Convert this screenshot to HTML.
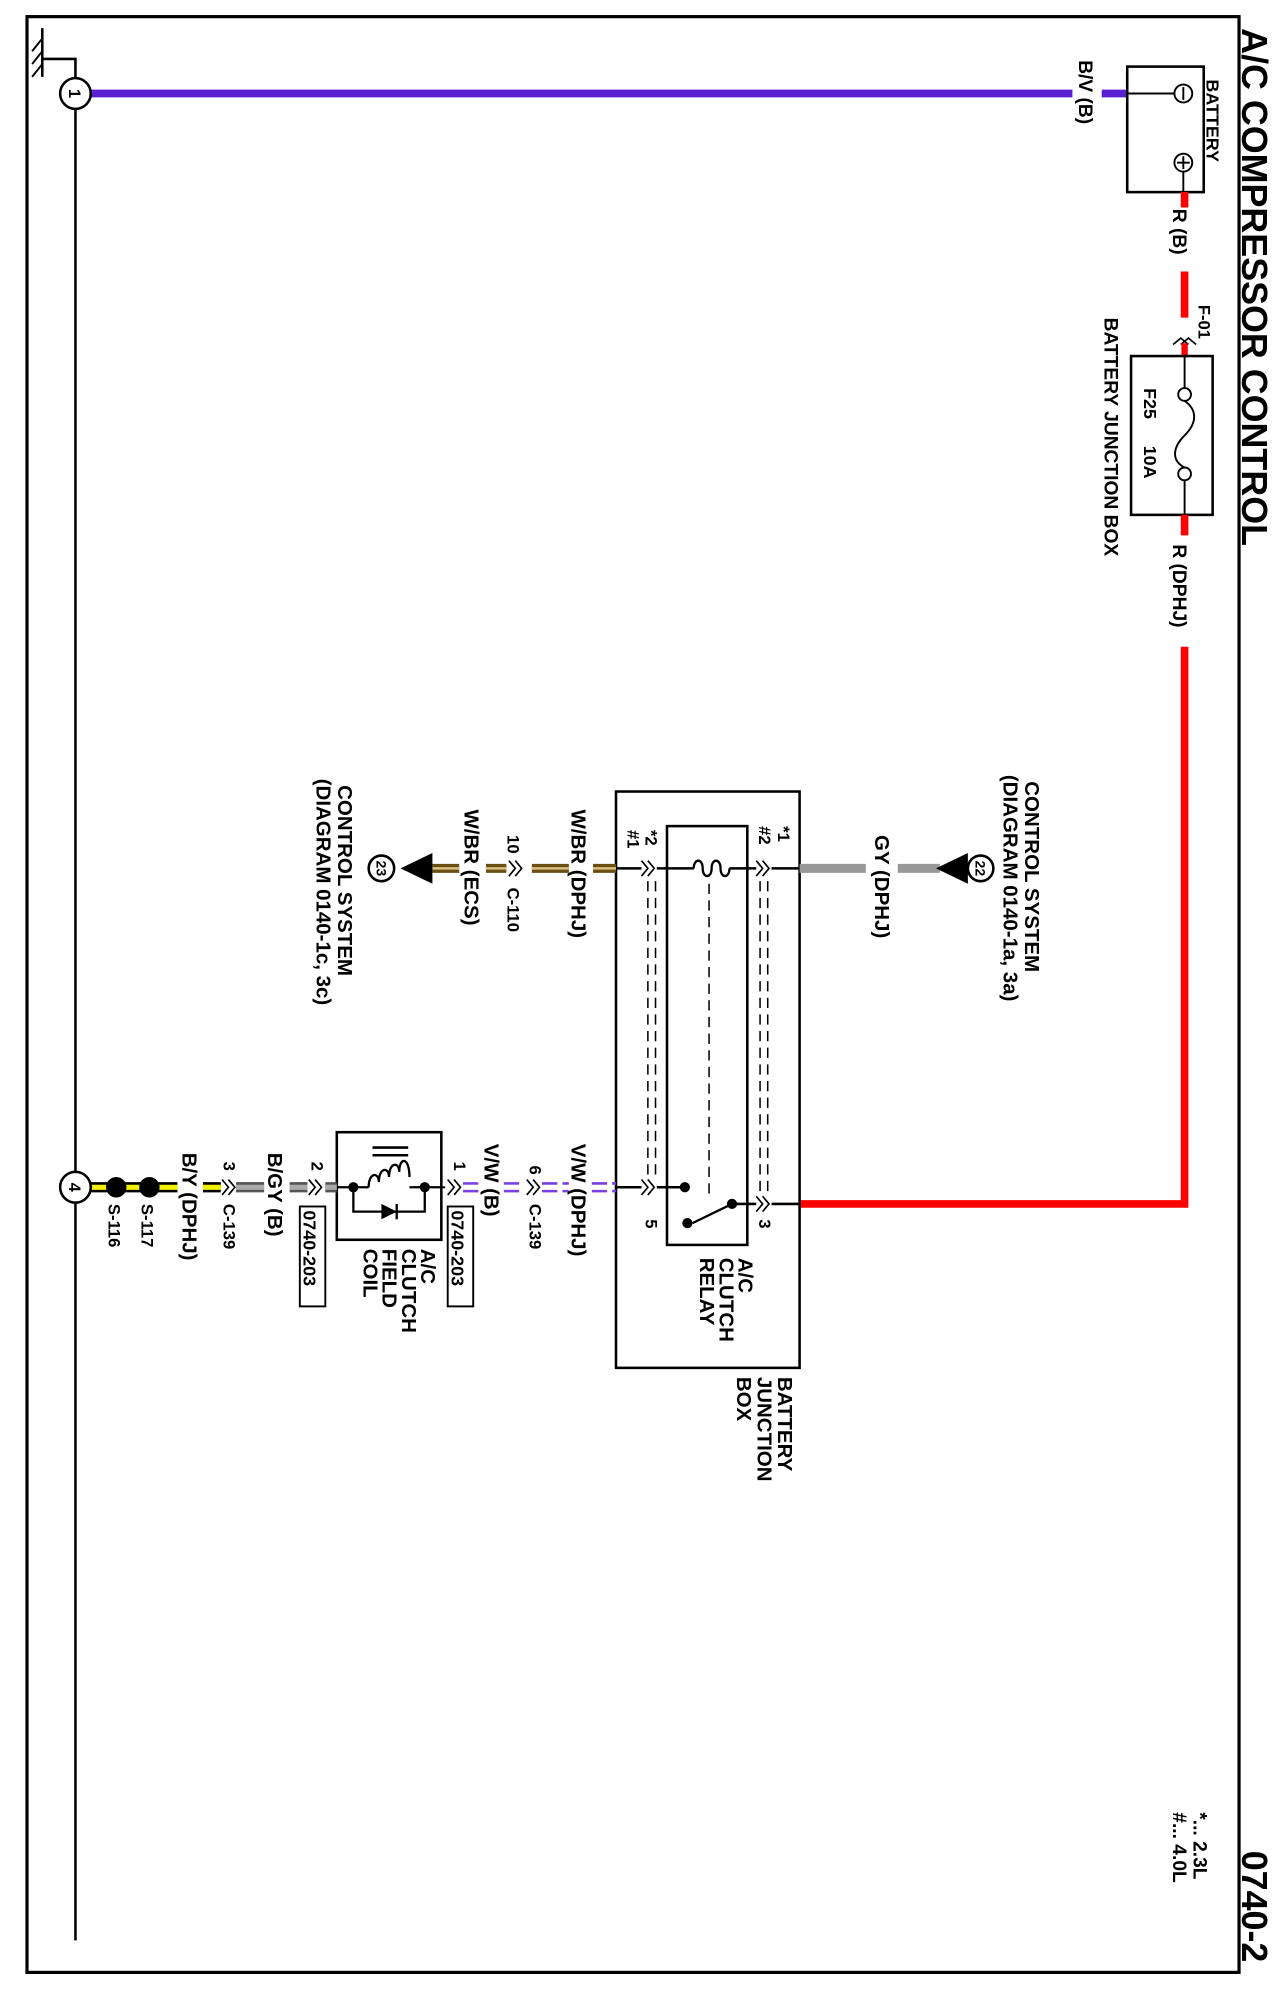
<!DOCTYPE html>
<html><head><meta charset="utf-8"><style>
html,body{margin:0;padding:0;background:#fff;}
svg{display:block;}
text{font-family:"Liberation Sans",Arial,sans-serif;font-weight:bold;fill:#000;}
</style></head><body>
<svg width="1287" height="1998" viewBox="0 0 1020 1560" preserveAspectRatio="none" xmlns="http://www.w3.org/2000/svg">
<g transform="matrix(1.0104 0 0 1 -0.83 0)">
<!-- border -->
<rect x="22" y="13" width="950.7" height="1527" fill="none" stroke="#000" stroke-width="2.5"/>
<!-- ground -->
<line x1="60" y1="85" x2="60" y2="1515" stroke="#000" stroke-width="2"/>
<polyline points="60,61 60,46 34,46" fill="none" stroke="#000" stroke-width="2"/>
<line x1="34" y1="22" x2="34" y2="60" stroke="#000" stroke-width="2"/>
<line x1="34" y1="30" x2="26" y2="40" stroke="#000" stroke-width="1.5"/>
<line x1="34" y1="40" x2="26" y2="50" stroke="#000" stroke-width="1.5"/>
<line x1="34" y1="50" x2="26" y2="60" stroke="#000" stroke-width="1.5"/>
<!-- purple wire -->
<line x1="72" y1="73" x2="842" y2="73" stroke="#5a1fd0" stroke-width="6"/>
<line x1="865" y1="73" x2="885" y2="73" stroke="#5a1fd0" stroke-width="6"/>
<circle cx="60" cy="73" r="12" fill="#fff" stroke="#000" stroke-width="2"/>
<text transform="translate(55,73) rotate(90)" font-size="13" text-anchor="middle">1</text>
<text transform="translate(847,47) rotate(90)" font-size="15">B/V (B)</text>
<!-- battery -->
<rect x="885" y="52" width="60" height="98" fill="#fff" stroke="#000" stroke-width="2"/>
<line x1="885" y1="73" x2="922" y2="73" stroke="#000" stroke-width="1.5"/>
<circle cx="929" cy="73" r="7" fill="#fff" stroke="#000" stroke-width="1.5"/>
<line x1="929" y1="68" x2="929" y2="78" stroke="#000" stroke-width="1.5"/>
<circle cx="929" cy="127" r="7" fill="#fff" stroke="#000" stroke-width="1.5"/>
<line x1="929" y1="122" x2="929" y2="132" stroke="#000" stroke-width="1.5"/>
<line x1="924" y1="127" x2="934" y2="127" stroke="#000" stroke-width="1.5"/>
<line x1="929" y1="134" x2="929" y2="150" stroke="#000" stroke-width="1.5"/>
<text transform="translate(947,62) rotate(90)" font-size="14">BATTERY</text>
<!-- red wire -->
<line x1="930" y1="150" x2="930" y2="162" stroke="#f00" stroke-width="6"/>
<line x1="930" y1="212" x2="930" y2="248" stroke="#f00" stroke-width="6"/>
<text transform="translate(921,163) rotate(90)" font-size="15">R (B)</text>
<text transform="translate(941,238) rotate(90)" font-size="13">F-01</text>
<path d="M935,255 l-5,6 l5,6 M935,261 l-5,6 l5,6" fill="none" stroke="#000" stroke-width="1.3" transform="rotate(90,930,264)"/>
<line x1="930" y1="268" x2="930" y2="278" stroke="#f00" stroke-width="5"/>
<rect x="888" y="278" width="64" height="124" fill="#fff" stroke="#000" stroke-width="2"/>
<line x1="930" y1="278" x2="930" y2="303" stroke="#000" stroke-width="1.5"/>
<circle cx="930" cy="308" r="5" fill="#fff" stroke="#000" stroke-width="1.5"/>
<path d="M930,313 C940,320 940,330 930,340 C920,350 920,360 930,365" fill="none" stroke="#000" stroke-width="1.5"/>
<circle cx="930" cy="370" r="5" fill="#fff" stroke="#000" stroke-width="1.5"/>
<line x1="930" y1="375" x2="930" y2="402" stroke="#000" stroke-width="1.5"/>
<text transform="translate(898,303) rotate(90)" font-size="14">F25</text>
<text transform="translate(898,348) rotate(90)" font-size="14">10A</text>
<text transform="translate(867,248) rotate(90)" font-size="15">BATTERY JUNCTION BOX</text>
<line x1="930" y1="402" x2="930" y2="418" stroke="#f00" stroke-width="6"/>
<text transform="translate(921,425) rotate(90)" font-size="15">R (DPHJ)</text>
<polyline points="930,505 930,940 628,940" fill="none" stroke="#f00" stroke-width="6"/>
<!-- title -->
<text transform="translate(975,22) rotate(90)" font-size="28">A/C COMPRESSOR CONTROL</text>
<text transform="translate(975,1445) rotate(90)" font-size="28">0740-2</text>
<text transform="translate(937,1415) rotate(90)" font-size="15">*... 2.3L</text>
<text transform="translate(921,1415) rotate(90)" font-size="15">#... 4.0L</text>
<!-- relay box -->
<rect x="484" y="618" width="144" height="450" fill="none" stroke="#000" stroke-width="2"/>
<rect x="524" y="645" width="63" height="327" fill="none" stroke="#000" stroke-width="2"/>
<text transform="translate(611,1075) rotate(90)" font-size="16">BATTERY</text>
<text transform="translate(595,1075) rotate(90)" font-size="16">JUNCTION</text>
<text transform="translate(579,1075) rotate(90)" font-size="16">BOX</text>
<text transform="translate(580,982) rotate(90)" font-size="16">A/C</text>
<text transform="translate(565,982) rotate(90)" font-size="16">CLUTCH</text>
<text transform="translate(550,982) rotate(90)" font-size="16">RELAY</text>
<!-- top relay wire -->
<line x1="484" y1="678" x2="504" y2="678" stroke="#000" stroke-width="2"/>
<line x1="516" y1="678" x2="545" y2="678" stroke="#000" stroke-width="2"/>
<path d="M545,678 c0,-8 7,-8 7,0 c0,8 7,8 7,0 c0,-8 7,-8 7,0 c0,8 7,8 7,0" fill="none" stroke="#000" stroke-width="1.8"/>
<line x1="573" y1="678" x2="594" y2="678" stroke="#000" stroke-width="2"/>
<line x1="606" y1="678" x2="628" y2="678" stroke="#000" stroke-width="2"/>
<path d="M504,672 l5,6 l-5,6 M509,672 l5,6 l-5,6" fill="none" stroke="#000" stroke-width="1.3"/>
<path d="M594,672 l5,6 l-5,6 M599,672 l5,6 l-5,6" fill="none" stroke="#000" stroke-width="1.3"/>
<line x1="557" y1="690" x2="557" y2="935" stroke="#000" stroke-width="1.2" stroke-dasharray="8,5"/>
<line x1="597" y1="688" x2="597" y2="930" stroke="#000" stroke-width="1.2" stroke-dasharray="8,5"/>
<line x1="603" y1="688" x2="603" y2="930" stroke="#000" stroke-width="1.2" stroke-dasharray="8,5"/>
<line x1="509" y1="688" x2="509" y2="918" stroke="#000" stroke-width="1.2" stroke-dasharray="8,5"/>
<line x1="515" y1="688" x2="515" y2="918" stroke="#000" stroke-width="1.2" stroke-dasharray="8,5"/>
<text transform="translate(611,645) rotate(90)" font-size="13">*1</text>
<text transform="translate(596,645) rotate(90)" font-size="13">#2</text>
<text transform="translate(507,648) rotate(90)" font-size="13">*2</text>
<text transform="translate(493,648) rotate(90)" font-size="13">#1</text>
<!-- GY wire -->
<line x1="628" y1="678" x2="680" y2="678" stroke="#999" stroke-width="7"/>
<line x1="705" y1="678" x2="738" y2="678" stroke="#999" stroke-width="7"/>
<polygon points="735,678 760,666 760,690" fill="#000"/>
<circle cx="770" cy="678" r="10" fill="#fff" stroke="#000" stroke-width="2"/>
<text transform="translate(766,678) rotate(90)" font-size="11" text-anchor="middle">22</text>
<text transform="translate(687,652) rotate(90)" font-size="16">GY (DPHJ)</text>
<text transform="translate(805,610) rotate(90)" font-size="16">CONTROL SYSTEM</text>
<text transform="translate(788,605) rotate(90)" font-size="16">(DIAGRAM 0140-1a, 3a)</text>
<!-- W/BR wire -->
<g stroke="#6b4e14" stroke-width="7">
<line x1="418" y1="678" x2="447" y2="678"/><line x1="466" y1="678" x2="484" y2="678"/>
<line x1="340" y1="678" x2="361" y2="678"/><line x1="382" y1="678" x2="398" y2="678"/>
</g>
<g stroke="#d8c080" stroke-width="2">
<line x1="418" y1="678" x2="447" y2="678"/><line x1="466" y1="678" x2="484" y2="678"/>
<line x1="340" y1="678" x2="361" y2="678"/><line x1="382" y1="678" x2="398" y2="678"/>
</g>
<path d="M400,672 l5,6 l-5,6 M405,672 l5,6 l-5,6" fill="none" stroke="#000" stroke-width="1.3"/>
<text transform="translate(399,652) rotate(90)" font-size="13">10</text>
<text transform="translate(399,693) rotate(90)" font-size="13">C-110</text>
<text transform="translate(449,632) rotate(90)" font-size="16">W/BR (DPHJ)</text>
<text transform="translate(365,632) rotate(90)" font-size="16">W/BR (ECS)</text>
<polygon points="315,678 340,666 340,690" fill="#000"/>
<circle cx="300" cy="678" r="10" fill="#fff" stroke="#000" stroke-width="2"/>
<text transform="translate(296,678) rotate(90)" font-size="11" text-anchor="middle">23</text>
<text transform="translate(266,613) rotate(90)" font-size="16">CONTROL SYSTEM</text>
<text transform="translate(249,608) rotate(90)" font-size="16">(DIAGRAM 0140-1c, 3c)</text>
<!-- lower relay wires -->
<line x1="484" y1="927" x2="504" y2="927" stroke="#000" stroke-width="2"/>
<line x1="516" y1="927" x2="538" y2="927" stroke="#000" stroke-width="2"/>
<path d="M504,921 l5,6 l-5,6 M509,921 l5,6 l-5,6" fill="none" stroke="#000" stroke-width="1.3"/>
<circle cx="538" cy="927" r="4" fill="#000"/>
<circle cx="540" cy="955" r="4" fill="#000"/>
<circle cx="575" cy="940" r="4" fill="#000"/>
<line x1="575" y1="940" x2="544" y2="955" stroke="#000" stroke-width="1.8"/>
<line x1="575" y1="940" x2="594" y2="940" stroke="#000" stroke-width="2"/>
<path d="M594,934 l5,6 l-5,6 M599,934 l5,6 l-5,6" fill="none" stroke="#000" stroke-width="1.3"/>
<line x1="606" y1="940" x2="628" y2="940" stroke="#000" stroke-width="2"/>
<text transform="translate(507,952) rotate(90)" font-size="13">5</text>
<text transform="translate(596,952) rotate(90)" font-size="13">3</text>
<!-- V/W wire -->
<g stroke="#7a3fe0" stroke-width="2" stroke-dasharray="12,4">
<line x1="364" y1="924" x2="379" y2="924"/><line x1="364" y1="930" x2="379" y2="930"/>
<line x1="396" y1="924" x2="412" y2="924"/><line x1="396" y1="930" x2="412" y2="930"/>
<line x1="426" y1="924" x2="447" y2="924"/><line x1="426" y1="930" x2="447" y2="930"/>
<line x1="465" y1="924" x2="484" y2="924"/><line x1="465" y1="930" x2="484" y2="930"/>
</g>
<line x1="347" y1="927" x2="350" y2="927" stroke="#000" stroke-width="1.5"/>
<path d="M414,921 l5,6 l-5,6 M419,921 l5,6 l-5,6" fill="none" stroke="#000" stroke-width="1.3"/>
<path d="M352,921 l5,6 l-5,6 M357,921 l5,6 l-5,6" fill="none" stroke="#000" stroke-width="1.3"/>
<text transform="translate(449,893) rotate(90)" font-size="16">V/W (DPHJ)</text>
<text transform="translate(416,910) rotate(90)" font-size="13">6</text>
<text transform="translate(416,940) rotate(90)" font-size="13">C-139</text>
<text transform="translate(381,893) rotate(90)" font-size="16">V/W (B)</text>
<text transform="translate(357,907) rotate(90)" font-size="13">1</text>
<rect x="352" y="942" width="20" height="78" fill="#fff" stroke="#000" stroke-width="1.5"/>
<text transform="translate(355,945) rotate(90)" font-size="14">0740-203</text>
<!-- coil -->
<rect x="265" y="884" width="82" height="84" fill="#fff" stroke="#000" stroke-width="2"/>
<line x1="265" y1="927" x2="290" y2="927" stroke="#000" stroke-width="1.8"/>
<line x1="322" y1="927" x2="347" y2="927" stroke="#000" stroke-width="1.8"/>
<path d="M290,927 c0,-12 8,-12 8,-4 c0,-12 8,-12 8,-4 c0,-12 8,-12 8,-4 c0,-12 8,-12 8,4" fill="none" stroke="#000" stroke-width="1.8"/>
<line x1="293" y1="896" x2="321" y2="896" stroke="#000" stroke-width="2"/>
<line x1="293" y1="902" x2="321" y2="902" stroke="#000" stroke-width="2"/>
<circle cx="278" cy="927" r="4" fill="#000"/><circle cx="334" cy="927" r="4" fill="#000"/>
<polyline points="278,927 278,946 334,946 334,927" fill="none" stroke="#000" stroke-width="1.8"/>
<polygon points="300,940 300,952 312,946" fill="#000"/>
<line x1="312" y1="940" x2="312" y2="952" stroke="#000" stroke-width="1.8"/>
<text transform="translate(331,975) rotate(90)" font-size="16">A/C</text>
<text transform="translate(316,975) rotate(90)" font-size="16">CLUTCH</text>
<text transform="translate(301,975) rotate(90)" font-size="16">FIELD</text>
<text transform="translate(286,975) rotate(90)" font-size="16">COIL</text>
<!-- B/GY -->
<g stroke="#555" stroke-width="8">
<line x1="186" y1="927" x2="208" y2="927"/><line x1="228" y1="927" x2="242" y2="927"/><line x1="256" y1="927" x2="265" y2="927"/>
</g>
<g stroke="#aaa" stroke-width="4">
<line x1="186" y1="927" x2="208" y2="927"/><line x1="228" y1="927" x2="242" y2="927"/><line x1="256" y1="927" x2="265" y2="927"/>
</g>
<path d="M243,921 l5,6 l-5,6 M248,921 l5,6 l-5,6" fill="none" stroke="#000" stroke-width="1.3"/>
<text transform="translate(245,907) rotate(90)" font-size="13">2</text>
<rect x="236" y="942" width="20" height="78" fill="#fff" stroke="#000" stroke-width="1.5"/>
<text transform="translate(239,945) rotate(90)" font-size="14">0740-203</text>
<text transform="translate(211,900) rotate(90)" font-size="16">B/GY (B)</text>
<path d="M175,921 l5,6 l-5,6 M180,921 l5,6 l-5,6" fill="none" stroke="#000" stroke-width="1.3"/>
<text transform="translate(176,907) rotate(90)" font-size="13">3</text>
<text transform="translate(176,940) rotate(90)" font-size="13">C-139</text>
<!-- B/Y -->
<g stroke="#000" stroke-width="8"><line x1="72" y1="927" x2="140" y2="927"/><line x1="160" y1="927" x2="174" y2="927"/></g>
<g stroke="#f2f200" stroke-width="4"><line x1="72" y1="927" x2="140" y2="927"/><line x1="160" y1="927" x2="174" y2="927"/></g>
<circle cx="118" cy="927" r="8" fill="#000"/>
<circle cx="92" cy="927" r="8" fill="#000"/>
<text transform="translate(144,900) rotate(90)" font-size="16">B/Y (DPHJ)</text>
<text transform="translate(112,940) rotate(90)" font-size="13">S-117</text>
<text transform="translate(86,940) rotate(90)" font-size="13">S-116</text>
<circle cx="60" cy="927" r="12" fill="#fff" stroke="#000" stroke-width="2"/>
<text transform="translate(55,927) rotate(90)" font-size="13" text-anchor="middle">4</text>
</g>
</svg>
</body></html>
